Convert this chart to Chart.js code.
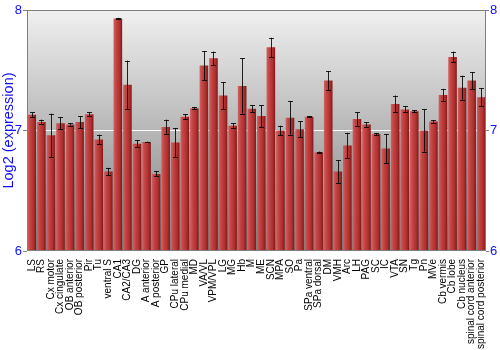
<!DOCTYPE html>
<html>
<head>
<meta charset="utf-8">
<script src="https://cdn.jsdelivr.net/npm/chart.js@4/dist/chart.umd.min.js"></script>
<style>
  html, body { margin: 0; padding: 0; background: #fff; }
  #wrap { width: 500px; height: 350px; }
</style>
</head>
<body>
<div id="wrap"><canvas id="chart"></canvas></div>
<script>
// Regions (x axis categories)
const regions = ['LS', 'RS', 'Cx motor', 'Cx cingulate', 'OB anterior', 'OB posterior', 'Pir', 'Tu',
  'ventral S', 'CA1', 'CA2/CA3', 'DG', 'A anterior', 'A posterior', 'GP', 'CPu lateral', 'CPu medial',
  'MD', 'VA/VL', 'VPM/VPL', 'LG', 'MG', 'Hb', 'M', 'ME', 'SCN', 'MPA', 'SO', 'Pa', 'SPa ventral',
  'SPa dorsal', 'DM', 'VMH', 'Arc', 'LH', 'PAG', 'SC', 'IC', 'VTA', 'SN', 'Tg', 'Pn', 'MVe',
  'Cb vermis', 'Cb lobe', 'Cb nucleus', 'spinal cord anterior', 'spinal cord posterior'];

// Mean log2 expression per region
const expression = [7.13, 7.07, 6.96, 7.06, 7.05, 7.07, 7.135, 6.925,
  6.66, 7.93, 7.38, 6.89, 6.905, 6.64, 7.03, 6.9, 7.115,
  7.185, 7.54, 7.6, 7.29, 7.04, 7.37, 7.18, 7.12, 7.69, 7.0, 7.105, 7.01, 7.115,
  6.82, 7.415, 6.66, 6.875, 7.095, 7.05, 6.97, 6.85, 7.22, 7.175, 7.16, 7.0, 7.075,
  7.295, 7.61, 7.355, 7.415, 7.275];

// Error (+/-) per region
const errors = [0.02, 0.02, 0.18, 0.05, 0.01, 0.05, 0.015, 0.04,
  0.03, 0.005, 0.2, 0.03, 0.003, 0.02, 0.06, 0.12, 0.02,
  0.01, 0.12, 0.055, 0.11, 0.02, 0.23, 0.03, 0.09, 0.08, 0.04, 0.14, 0.065, 0.005,
  0.005, 0.077, 0.095, 0.105, 0.055, 0.02, 0.01, 0.12, 0.07, 0.025, 0.01, 0.175, 0.01,
  0.05, 0.045, 0.1, 0.07, 0.075];

const yTicks = [6, 7, 8];

// gray gradient behind the plot + frame
const plotBackground = {
  id: 'plotBackground',
  beforeDraw(chart) {
    const { ctx, chartArea: a } = chart;
    const g = ctx.createLinearGradient(0, a.top, 0, a.bottom);
    g.addColorStop(0, '#f0f0f0');
    g.addColorStop(1, '#7e7e7e');
    ctx.save();
    ctx.fillStyle = g;
    ctx.fillRect(a.left, a.top, a.right - a.left, a.bottom - a.top);
    ctx.restore();
  },
  afterDraw(chart) {
    const { ctx, chartArea: a } = chart;
    ctx.save();
    ctx.strokeStyle = '#808080';
    ctx.lineWidth = 1;
    ctx.strokeRect(a.left + 0.5, a.top + 0.5, a.right - a.left - 1, a.bottom - a.top - 1);
    ctx.restore();
  }
};

// error bars drawn through the y scale
const errorBars = {
  id: 'errorBars',
  afterDatasetsDraw(chart) {
    const { ctx } = chart;
    const ys = chart.scales.y;
    const meta = chart.getDatasetMeta(0);
    ctx.save();
    ctx.strokeStyle = 'rgba(0,0,0,0.85)';
    ctx.lineWidth = 1;
    meta.data.forEach((bar, i) => {
      const x = Math.round(bar.x) + 0.5;
      const top = ys.getPixelForValue(expression[i] + errors[i]);
      const bot = ys.getPixelForValue(expression[i] - errors[i]);
      ctx.beginPath();
      ctx.moveTo(x, top); ctx.lineTo(x, bot);
      ctx.moveTo(x - 2.5, Math.round(top) + 0.5); ctx.lineTo(x + 2.5, Math.round(top) + 0.5);
      ctx.moveTo(x - 2.5, Math.round(bot) + 0.5); ctx.lineTo(x + 2.5, Math.round(bot) + 0.5);
      ctx.stroke();
    });
    ctx.restore();
  }
};

// horizontal shading for each bar
function barFill(context) {
  const chart = context.chart;
  const xs = chart.scales.x;
  if (!xs || !chart.chartArea) return '#b03030';
  const cx = xs.getPixelForValue(context.dataIndex);
  const w = xs.width / regions.length * 0.9;
  const g = chart.ctx.createLinearGradient(cx - w / 2, 0, cx + w / 2, 0);
  g.addColorStop(0, '#d06262');
  g.addColorStop(0.3, '#c44444');
  g.addColorStop(0.7, '#b03030');
  g.addColorStop(1, '#7c1a1a');
  return g;
}

const blue = '#1010ff';

new Chart(document.getElementById('chart'), {
  type: 'bar',
  data: {
    labels: regions,
    datasets: [{
      data: expression,
      backgroundColor: barFill,
      borderWidth: 0,
      barPercentage: 0.9,
      categoryPercentage: 1.0
    }]
  },
  options: {
    responsive: true,
    maintainAspectRatio: false,
    animation: false,
    layout: { padding: { top: 10, left: 0, right: 0, bottom: 0 } },
    plugins: { legend: { display: false }, tooltip: { enabled: false } },
    scales: {
      x: {
        grid: { display: false },
        border: { display: false },
        ticks: {
          autoSkip: false,
          minRotation: 90,
          maxRotation: 90,
          padding: 0,
          color: '#000',
          font: { family: 'Liberation Sans, Arial, sans-serif', size: 10 }
        },
        afterFit(s) { s.height = 99; }
      },
      y: {
        position: 'left',
        min: 6,
        max: 8,
        afterBuildTicks(s) { s.ticks = yTicks.map(v => ({ value: v })); },
        grid: { color: '#ffffff', lineWidth: 1, tickColor: '#808080', tickLength: 4 },
        border: { display: false },
        ticks: {
          color: blue,
          padding: 1,
          font: { family: 'Liberation Sans, Arial, sans-serif', size: 13 }
        },
        title: {
          display: true,
          text: 'Log2 (expression)',
          color: blue,
          padding: { top: 0, bottom: 0 },
          font: { family: 'Liberation Sans, Arial, sans-serif', size: 14.5 }
        },
        afterFit(s) { s.width = 27; }
      },
      y2: {
        position: 'right',
        min: 6,
        max: 8,
        afterBuildTicks(s) { s.ticks = yTicks.map(v => ({ value: v })); },
        grid: { drawOnChartArea: false, tickColor: '#808080', tickLength: 3 },
        border: { display: false },
        ticks: {
          color: blue,
          padding: 1,
          font: { family: 'Liberation Sans, Arial, sans-serif', size: 13 }
        },
        afterFit(s) { s.width = 14; }
      }
    }
  },
  plugins: [plotBackground, errorBars]
});
</script>
</body>
</html>
